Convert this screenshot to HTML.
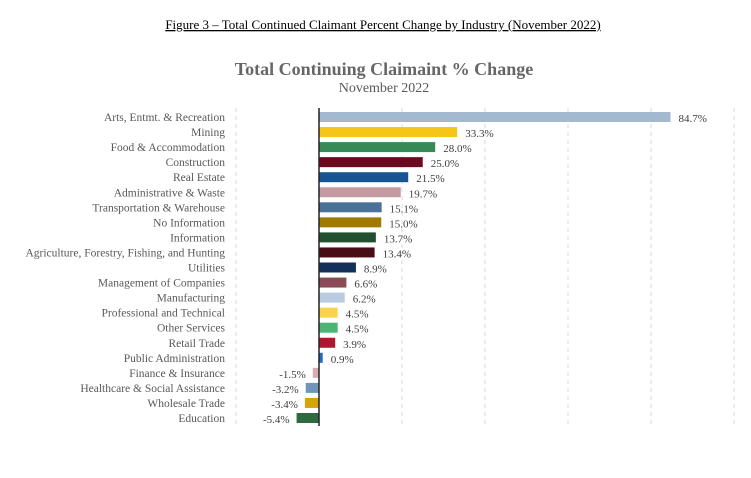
<!DOCTYPE html>
<html><head><meta charset="utf-8"><style>
body{margin:0;background:#fff;width:751px;height:473px;overflow:hidden;font-family:"Liberation Serif",serif}
</style></head><body>
<svg width="751" height="473">
<text x="383" y="29" text-anchor="middle" font-size="13" fill="#000" text-decoration="underline">Figure 3 – Total Continued Claimant Percent Change by Industry (November 2022)</text>
<text x="384" y="75" text-anchor="middle" font-size="18" font-weight="bold" fill="#666">Total Continuing Claimaint % Change</text>
<text x="384" y="92" text-anchor="middle" font-size="14" fill="#595959">November 2022</text>
<g id="grid"></g><g id="bars"></g>
</svg>
<script>
const categories=["Arts, Entmt. & Recreation","Mining","Food & Accommodation","Construction","Real Estate","Administrative & Waste","Transportation & Warehouse","No Information","Information","Agriculture, Forestry, Fishing, and Hunting","Utilities","Management of Companies","Manufacturing","Professional and Technical","Other Services","Retail Trade","Public Administration","Finance & Insurance","Healthcare & Social Assistance","Wholesale Trade","Education"];
const values=[84.7,33.3,28.0,25.0,21.5,19.7,15.1,15.0,13.7,13.4,8.9,6.6,6.2,4.5,4.5,3.9,0.9,-1.5,-3.2,-3.4,-5.4];
const colors=["#a2b9d0","#f5c518","#378a55","#6b0a1e","#165591","#c49aa2","#4a7198","#a07a00","#22502f","#4a0d16","#14305a","#8a4b57","#b8cbdf","#fbd34a","#4cb573","#b3142f","#1f6cc0","#d6adb4","#6f95bb","#d4a508","#2d6a40"];
const gridTicks=[-20,0,20,40,60,80,100];
const ns="http://www.w3.org/2000/svg";
const x=v=>319+v*4.15, y=i=>117+i*15.05;
const grid=document.getElementById('grid'), bars=document.getElementById('bars');
function mk(t,a,p){const e=document.createElementNS(ns,t);for(const k in a)e.setAttribute(k,a[k]);p.appendChild(e);return e;}
gridTicks.forEach(t=>{if(t===0)return;const l=mk('line',{x1:x(t),x2:x(t),y1:108,y2:426,stroke:'#d9d9d9','stroke-dasharray':'4,4'},grid);

});
categories.forEach((c,i)=>{const v=values[i];
const r=mk('rect',{x:Math.min(x(0),x(v)),y:y(i)-5,width:Math.abs(x(v)-x(0)),height:10,fill:colors[i]},bars);


const lb=mk('text',{x:225,y:y(i)+4,'text-anchor':'end','font-size':'11.5',fill:'#595959'},bars);lb.textContent=c;


const vl=mk('text',{x:v>=0?x(v)+8:x(v)-7,y:y(i)+5,'text-anchor':v>=0?'start':'end','font-size':'11',fill:'#404040'},bars);vl.textContent=v.toFixed(1)+'%';

});
const ax=mk('line',{x1:x(0),x2:x(0),y1:108,y2:426,stroke:'#222','stroke-width':1.5},bars);


</script>
</body></html>
